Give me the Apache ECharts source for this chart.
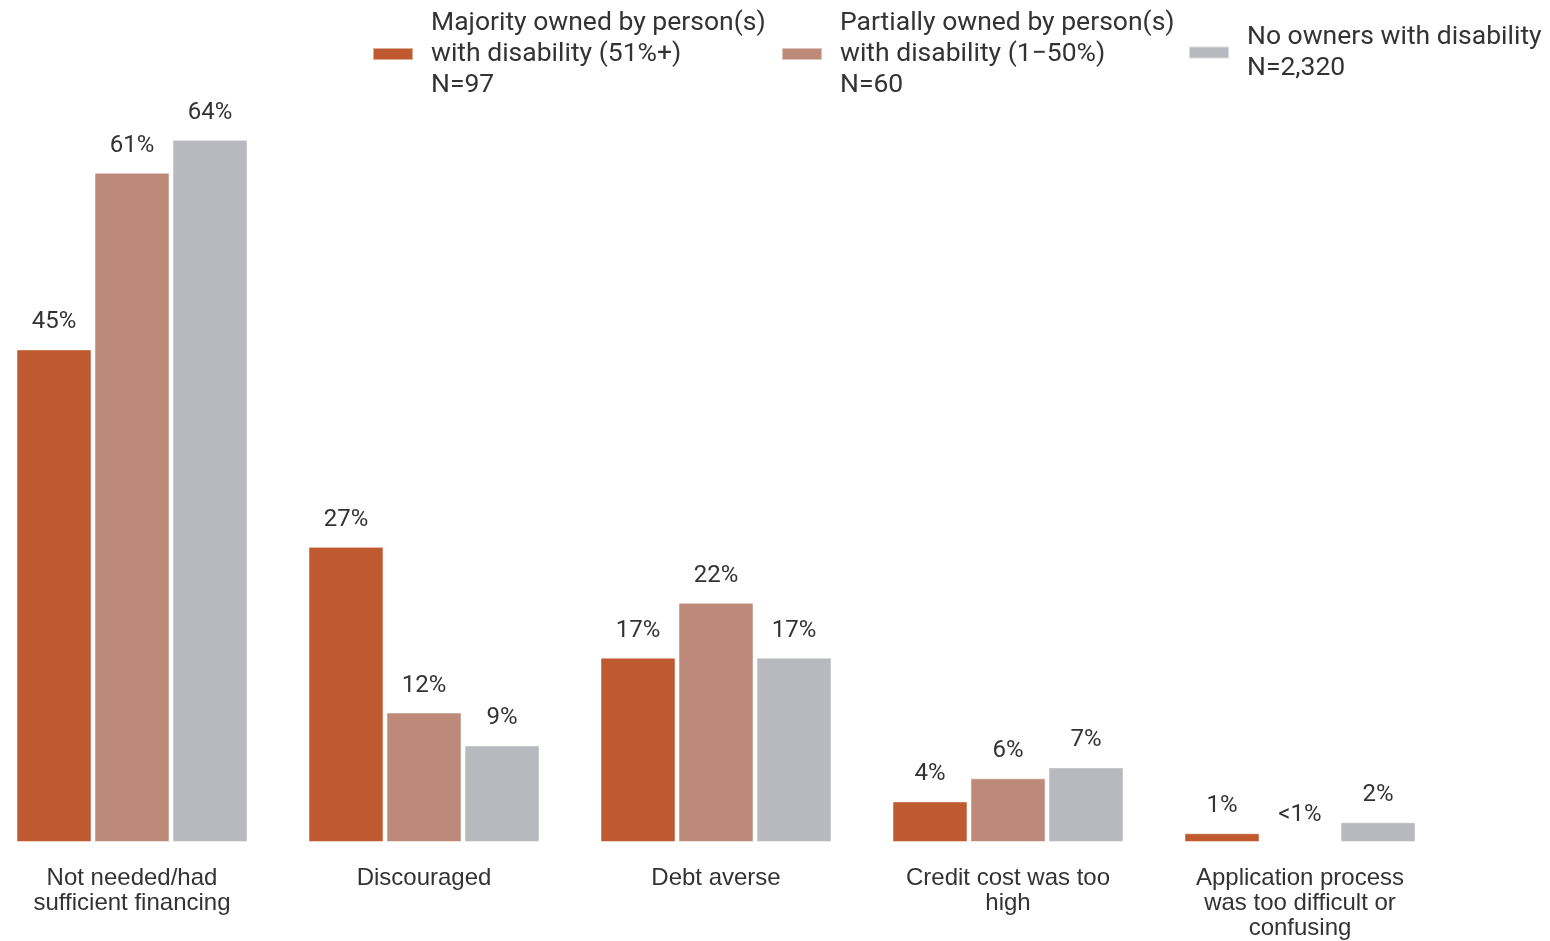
<!DOCTYPE html>
<html>
<head>
<meta charset="utf-8">
<script src="https://cdn.jsdelivr.net/npm/echarts@6/dist/echarts.min.js"></script>
<style>html,body{margin:0;padding:0;background:#fff;overflow:hidden;}#c{width:1564px;height:941px;margin-left:-14px;}</style>
</head>
<body>
<div id="c"></div>
<script>
const categories = ['Not needed/had\nsufficient financing', 'Discouraged', 'Debt averse', 'Credit cost was too\nhigh', 'Application process\nwas too difficult or\nconfusing'];
const seriesNames = ['Majority owned by person(s)\nwith disability (51%+)\nN=97', 'Partially owned by person(s)\nwith disability (1\u221250%)\nN=60', 'No owners with disability\nN=2,320'];
const majorityValues = [44.9, 26.9, 16.8, 3.7, 0.8];
const partialValues = [61.0, 11.8, 21.8, 5.8, 0];
const noneValues = [64.0, 8.8, 16.8, 6.8, 1.8];
const majorityLabels = ['45%', '27%', '17%', '4%', '1%'];
const partialLabels = ['61%', '12%', '22%', '6%', '<1%'];
const noneLabels = ['64%', '9%', '17%', '7%', '2%'];
const colors = ['#BF5930', '#BD8978', '#B8B9BE'];

const shift = 14; // container is shifted left by this many pixels
const chart = echarts.init(document.getElementById('c'));
function mkSeries(i, vals, labs) {
  return {
    name: seriesNames[i],
    type: 'bar',
    data: vals,
    barWidth: 75,
    barGap: '4%',
    itemStyle: { color: colors[i], borderColor: 'rgba(255,255,255,0.5)', borderWidth: 1 },
    label: {
      show: true, position: 'top', distance: 15,
      fontFamily: 'Roboto', fontSize: 24, color: '#333',
      formatter: p => labs[p.dataIndex]
    },
    emphasis: { disabled: true },
    animation: false
  };
}
const legendCommon = {
  orient: 'horizontal', itemWidth: 40, itemHeight: 12, icon: 'rect',
  textStyle: { fontFamily: 'Roboto', fontSize: 26.5, lineHeight: 31, color: '#333', padding: [0, 0, 0, 13] },
  selectedMode: false
};
chart.setOption({
  animation: false,
  legend: [
    Object.assign({}, legendCommon, { left: 367 + shift, top: 2.5, data: [seriesNames[0]] }),
    Object.assign({}, legendCommon, { left: 776 + shift, top: 2.5, data: [seriesNames[1]] }),
    Object.assign({}, legendCommon, { left: 1183 + shift, top: 16.5, data: [seriesNames[2]] })
  ],
  grid: { left: 0, right: 104, top: 74, bottom: 99, outerBoundsMode: 'none' },
  xAxis: {
    type: 'category', data: categories,
    axisLine: { show: false }, axisTick: { show: false },
    axisLabel: { fontFamily: 'Liberation Sans', fontSize: 24, lineHeight: 25, color: '#333', margin: 24, interval: 0 }
  },
  yAxis: {
    type: 'value', min: 0, max: 70, show: false,
    splitLine: { show: false }
  },
  series: [
    mkSeries(0, majorityValues, majorityLabels),
    mkSeries(1, partialValues, partialLabels),
    mkSeries(2, noneValues, noneLabels)
  ]
});
</script>
</body>
</html>
